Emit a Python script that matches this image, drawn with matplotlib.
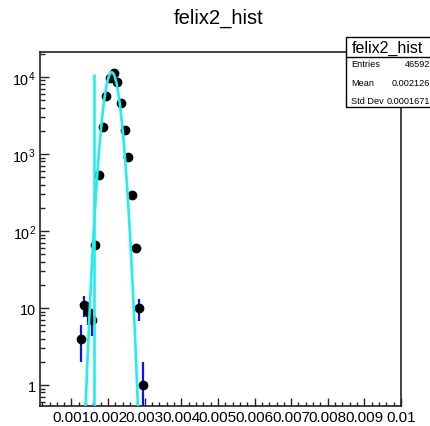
import matplotlib
matplotlib.use("Agg")
import matplotlib.pyplot as plt
import numpy as np
from matplotlib.patches import Rectangle
from matplotlib.lines import Line2D
from matplotlib.ticker import FixedLocator, MultipleLocator, LogLocator, NullFormatter

plt.rcParams["font.family"] = ["Liberation Sans", "DejaVu Sans"]
plt.rcParams["mathtext.fontset"] = "custom"
plt.rcParams["mathtext.rm"] = "Liberation Sans"
plt.rcParams["mathtext.it"] = "Liberation Sans"

# histogram bins (bin centre, content)
bin_x = [0.00125, 0.00135, 0.00145, 0.00155, 0.00165, 0.00175, 0.00185, 0.00195,
         0.00205, 0.00215, 0.00225, 0.00235, 0.00245, 0.00255, 0.00265, 0.00275,
         0.00285, 0.00295]
bin_y = [4, 11, 9, 7, 65, 530, 2240, 5700, 9600, 11200, 8500, 4550, 2050, 910,
         297, 60, 10, 1]

# gaussian fit drawn in cyan
fit_const, fit_mean, fit_sigma = 11500.0, 0.00210, 0.00016
fit_range = (0.0012, 0.0030)
spike_x, spike_top = 0.00162, 11000.0

stats_name = "felix2_hist"
stats_rows = [("Entries", "46592"), ("Mean", "0.002126"), ("Std Dev", "0.0001671")]

yticks = [1, 10, 100, 1000, 10000]
ytick_labels = ["1", "10", "$10^{2}$", "$10^{3}$", "$10^{4}$"]
xticks = [0.001, 0.002, 0.003, 0.004, 0.005, 0.006, 0.007, 0.008, 0.009, 0.010]
xtick_labels = ["0.001", "0.002", "0.003", "0.004", "0.005", "0.006", "0.007",
                "0.008", "0.009", "0.01"]

W, H = 431, 427
fig = plt.figure(figsize=(W / 100, H / 100), dpi=100)
ax = fig.add_axes([40 / W, 1 - 407 / H, 361 / W, 354 / H])
ax.set_yscale("log", nonpositive="clip")
ymin, ymax = 0.534, 21100
ax.set_xlim(0.00014, 0.01)
ax.set_ylim(ymin, ymax)

x = np.array(bin_x)
y = np.array(bin_y, dtype=float)
err = np.sqrt(y)
lo = y - np.maximum(y - err, 1e-3)
ax.errorbar(x, y, yerr=[lo, err], fmt="none", ecolor="#1010ee",
            elinewidth=1.6, capsize=0, zorder=2)
ax.plot(x, y, "o", color="black", ms=6, zorder=3)

xf = np.linspace(fit_range[0], fit_range[1], 600)
yf = fit_const * np.exp(-0.5 * ((xf - fit_mean) / fit_sigma) ** 2)
ax.plot(xf, yf, color="#22eeee", lw=1.9, zorder=4)
ax.vlines(spike_x, ymin, spike_top, color="#22eeee", lw=1.9, zorder=4)

ax.yaxis.set_major_locator(FixedLocator(yticks))
ax.set_yticklabels(ytick_labels)
ax.yaxis.set_minor_locator(LogLocator(base=10, subs=np.arange(2, 10)))
ax.yaxis.set_minor_formatter(NullFormatter())
ax.xaxis.set_major_locator(FixedLocator(xticks))
ax.set_xticklabels(xtick_labels)
ax.xaxis.set_minor_locator(MultipleLocator(0.0002))

ax.tick_params(which="both", direction="in", top=False, right=False,
               width=1.0, color="#222")
ax.tick_params(axis="y", which="major", length=6.5, pad=3, labelsize=10.4)
ax.tick_params(axis="y", which="minor", length=3.5)
ax.tick_params(axis="x", which="major", length=6, pad=3, labelsize=11)
ax.tick_params(axis="x", which="minor", length=3)
for s in ax.spines.values():
    s.set_linewidth(1.2)
    s.set_color("#222")

fig.text(219 / W, 1 - 18 / H, "felix2_hist", ha="center", va="center", fontsize=14.5)

# stats box (runs off the right edge, as in the ROOT canvas)
bx0, bx1, by0, by1 = 346, 440, 38, 108
fig.add_artist(Rectangle((bx0 / W, 1 - by1 / H), (bx1 - bx0) / W, (by1 - by0) / H,
                         transform=fig.transFigure, facecolor="white",
                         edgecolor="black", lw=1.0, zorder=5))
fig.add_artist(Line2D([bx0 / W, bx1 / W], [1 - 57.5 / H, 1 - 57.5 / H],
                      transform=fig.transFigure, color="black", lw=1.0, zorder=6))
fig.text(387.5 / W, 1 - 48 / H, stats_name, ha="center", va="center",
         fontsize=11.5, zorder=7)
for i, (lab, val) in enumerate(stats_rows):
    yy = 1 - (65 + 18.3 * i) / H
    fig.text(351.5 / W, yy, lab, ha="left", va="center", fontsize=6.6, zorder=7)
    fig.text(430 / W, yy, val, ha="right", va="center", fontsize=6.6, zorder=7)

fig.savefig("out.png", dpi=100)
